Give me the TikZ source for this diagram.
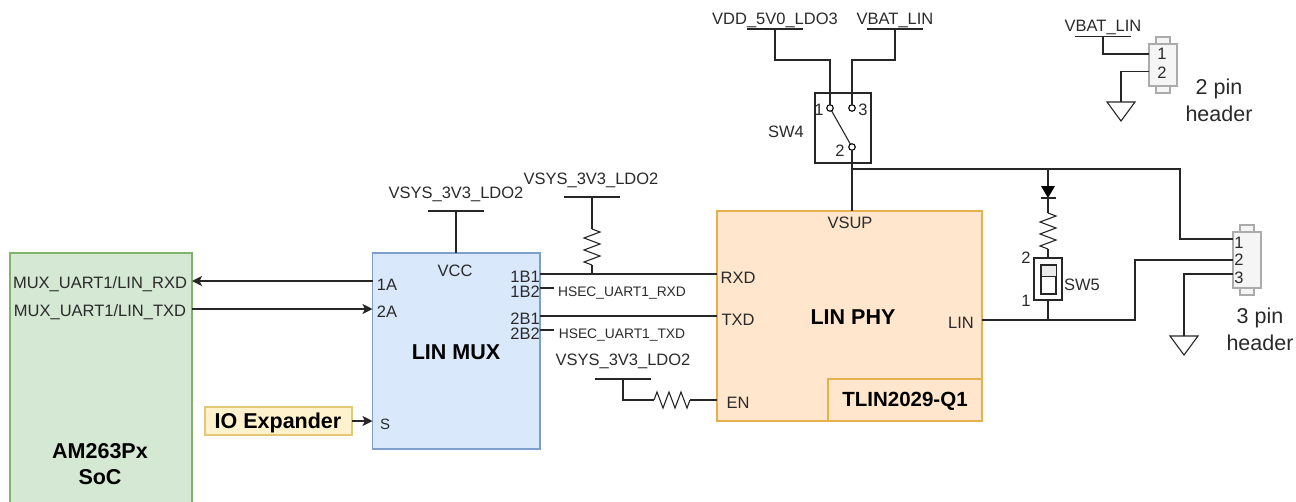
\documentclass[tikz,border=0pt]{standalone}
\usepackage{fontspec}
\setmainfont{Liberation Sans}
\usetikzlibrary{arrows.meta}
\definecolor{socfill}{HTML}{D5E8D4}
\definecolor{socline}{HTML}{82B366}
\definecolor{muxfill}{HTML}{DAE8FC}
\definecolor{muxline}{HTML}{7F9FCB}
\definecolor{phyfill}{HTML}{FFE6CC}
\definecolor{phyline}{HTML}{E8B04A}
\definecolor{ioxfill}{HTML}{FFF2CC}
\definecolor{ioxline}{HTML}{E3C878}
\definecolor{hdrfill}{HTML}{F5F5F5}
\definecolor{hdrline}{HTML}{ABABAB}
\definecolor{inktext}{HTML}{2A2A2A}
\tikzset{
	block/.style={draw, rectangle, inner sep=0pt, outer sep=0pt, line width=1.3pt},
	wire/.style={line width=1.4pt, color=black!85, line join=miter},
	thinwire/.style={line width=1.1pt, color=black!85},
	lab/.style={inner sep=0pt, yshift=-1.2pt, text=inktext, font=\fontsize{16.5}{19}\selectfont},
	smalllab/.style={inner sep=0pt, yshift=-1pt, text=inktext, font=\fontsize{13.8}{16}\selectfont},
	biglab/.style={inner sep=0pt, text=inktext, align=center, font=\fontsize{21.5}{27}\selectfont},
	boldlab/.style={inner sep=0pt, yshift=-1.5pt, text=black, align=center, font=\bfseries\fontsize{21.5}{26}\selectfont},
	pinhole/.style={draw, circle, fill=white, inner sep=0pt, outer sep=0pt, minimum size=6.5pt, line width=1.1pt},
	hdrbody/.style={block, fill=hdrfill, draw=hdrline},
	railbar/.pic={\draw[thinwire] (-28,0) -- (28,0);},
	gndsym/.pic={\draw[thinwire] (-14,0) -- (14,0) -- (0,19) -- cycle;},
	resbody/.pic={\draw[thinwire] (0,0) -- (8,3) -- (-8,9) -- (8,15) -- (-8,21) -- (8,27) -- (-8,33) -- (0,36);},
	diodesym/.pic={\fill[black] (-7,0) -- (7,0) -- (0,12) -- cycle; \draw[thinwire] (-7.5,12) -- (7.5,12);}
}
\begin{document}
\begin{tikzpicture}[x=1pt, y=-1pt, >={Stealth[length=10pt,width=10pt,inset=2.5pt]}]
	\useasboundingbox (0,0) rectangle (1296,501);
	\clip (0,0) rectangle (1296,501);

	% 1. blocks
	\node[block, fill=socfill, draw=socline, minimum width=182pt, minimum height=258pt] (soc) at (101,382) {};
	\node[block, fill=muxfill, draw=muxline, minimum width=167.5pt, minimum height=196pt] (mux) at (456.25,351) {};
	\node[block, fill=phyfill, draw=phyline, minimum width=265pt, minimum height=210pt] (phy) at (849.5,316) {};
	\node[block, fill=phyfill, draw=phyline, minimum width=154pt, minimum height=42pt] (tlin) at (905,400) {};
	\node[block, fill=ioxfill, draw=ioxline, minimum width=147pt, minimum height=28pt] (iox) at (278.5,421) {};
	\node[boldlab] (socname) at (100,463) {AM263Px\\SoC};
	\node[boldlab] (muxname) at (456,351) {LIN MUX};
	\node[boldlab] (phyname) at (853,316) {LIN PHY};
	\node[boldlab, font=\bfseries\fontsize{20.5}{25}\selectfont] (tlinname) at (905,400) {TLIN2029-Q1};
	\node[boldlab] (ioxname) at (278,421) {IO Expander};

	% 2. pin names
	\node[lab] (socrxd) at (100,283) {MUX\_UART1/LIN\_RXD};
	\node[lab] (soctxd) at (100,311) {MUX\_UART1/LIN\_TXD};
	\node[lab] (mux1a) at (387,284) {1A};
	\node[lab] (mux2a) at (387,311) {2A};
	\node[lab, font=\fontsize{15}{18}\selectfont] (muxs) at (385,423) {S};
	\node[lab] (muxvcc) at (455,270) {VCC};
	\node[lab] (mux1b1) at (525,276) {1B1};
	\node[lab] (mux1b2) at (525,291) {1B2};
	\node[lab] (mux2b1) at (525,318) {2B1};
	\node[lab] (mux2b2) at (525,333) {2B2};
	\node[lab] (phyrxd) at (738,277) {RXD};
	\node[lab] (phytxd) at (738,319) {TXD};
	\node[lab] (phyen) at (738,402) {EN};
	\node[lab] (physup) at (850,222) {VSUP};
	\node[lab] (phylin) at (961,322) {LIN};
	\node[smalllab] (hsecrxd) at (622,292) {HSEC\_UART1\_RXD};
	\node[smalllab] (hsectxd) at (622,334) {HSEC\_UART1\_TXD};

	% 3. power rails
	\coordinate (railvcc) at (456,211);
	\coordinate (railpull) at (592,197);
	\coordinate (railen) at (623,379);
	\coordinate (railvdd) at (775,29);
	\coordinate (railbat) at (895,29);
	\coordinate (railhdr) at (1103,36.5);
	\foreach \r in {railvcc,railpull,railen,railvdd,railbat,railhdr}
		\pic at (\r) {railbar};
	\node[lab] (railvcclab) at (456,193) {VSYS\_3V3\_LDO2};
	\node[lab] (railpulllab) at (591,179) {VSYS\_3V3\_LDO2};
	\node[lab] (railenlab) at (623,360) {VSYS\_3V3\_LDO2};
	\node[lab] (railvddlab) at (775,19) {VDD\_5V0\_LDO3};
	\node[lab] (railbatlab) at (895,19) {VBAT\_LIN};
	\node[lab] (railhdrlab) at (1103,26) {VBAT\_LIN};

	% 4. SoC and mux side
	\coordinate (a1) at (mux.west |- 0,281);
	\coordinate (a2) at (mux.west |- 0,309);
	\draw[wire,->] (a1) -- (soc.east |- a1);
	\draw[wire,->] (soc.east |- a2) -- (a2);
	\draw[wire,->] (iox.east) -- (mux.west |- iox.east);
	\draw[wire] (railvcc) -- (mux.north -| railvcc);

	% 5. mux to PHY
	\coordinate (b1) at (mux.east |- 0,274);
	\coordinate (b2) at (mux.east |- 0,316);
	\draw[wire] (b1) -- (phy.west |- b1);
	\draw[wire] (b2) -- (phy.west |- b2);
	\draw[thinwire] (mux.east |- 0,288) -- (554,288);
	\draw[thinwire] (mux.east |- 0,330) -- (554,330);
	\coordinate (pulltop) at (592,229);
	\coordinate (pullend) at (592,265);
	\draw[wire] (railpull) -- (pulltop);
	\pic at (pulltop) {resbody};
	\draw[wire] (pullend) -- (pullend |- b1);
	\coordinate (enres) at (654,400);
	\coordinate (enresend) at (690,400);
	\draw[wire] (railen) |- (enres);
	\pic[rotate=90] at (enres) {resbody};
	\draw[wire] (enresend) -- (phy.west |- enresend);

	% 6. SW4
	\node[block, draw=black!85, fill=white, minimum width=56pt, minimum height=70pt] (sw4) at (843,128) {};
	\node[pinhole] (swa) at (830,108) {};
	\node[pinhole] (swb) at (852,108) {};
	\node[pinhole] (swc) at (852,147) {};
	\node[lab] (swan) at (819,108.5) {1};
	\node[lab] (swbn) at (863,108.5) {3};
	\node[lab] (swcn) at (840,150) {2};
	\node[lab] (sw4lab) at (786,131) {SW4};
	\draw[wire] (railvdd) -- (775,60) -| (swa.north);
	\draw[wire] (railbat) -- (895,60) -| (swb.north);
	\draw[thinwire] (swa) -- (swc);
	\draw[wire] (swc.south) -- (phy.north -| swc);

	% 7. supply branch and SW5
	\coordinate (vsupnode) at (852,169);
	\coordinate (dtop) at (1048,186);
	\coordinate (rtop) at (1048,213);
	\coordinate (rend) at (1048,249);
	\node[block, draw=black!85, fill=white, line width=1.1pt, minimum width=28pt, minimum height=42pt] (sw5) at (1048,279) {};
	\node[block, draw=black!85, fill=white, line width=1.1pt, minimum width=15pt, minimum height=29pt] (sw5in) at (1048.5,279.5) {};
	\node[block, draw=black!85, fill=black!8, line width=0.9pt, minimum width=15pt, minimum height=11pt] (sw5top) at (1048.5,270.5) {};
	\node[lab] (sw5two) at (1026,257) {2};
	\node[lab] (sw5one) at (1026,300) {1};
	\node[lab] (sw5lab) at (1082,284) {SW5};
	\draw[wire] (vsupnode) -| (dtop);
	\pic at (dtop) {diodesym};
	\draw[wire] (1048,198) -- (rtop);
	\pic at (rtop) {resbody};
	\draw[wire] (rend) -- (sw5.north);

	% 8. headers
	\node[hdrbody, minimum width=14pt, minimum height=7pt] (hdrctop) at (1247,228.5) {};
	\node[hdrbody, minimum width=14pt, minimum height=7pt] (hdrcbot) at (1247,291.5) {};
	\node[hdrbody, minimum width=28pt, minimum height=56pt] (hdrc) at (1247,260) {};
	\node[hdrbody, minimum width=14pt, minimum height=7pt] (hdrbtop) at (1163,40.5) {};
	\node[hdrbody, minimum width=14pt, minimum height=7pt] (hdrbbot) at (1163,89.5) {};
	\node[hdrbody, minimum width=28pt, minimum height=42pt] (hdrb) at (1163,65) {};
	\foreach \n/\y in {1/242,2/259,3/277}
		\node[lab] (hdrcpin\n) at (1239,\y) {\n};
	\foreach \n/\y in {1/53,2/72}
		\node[lab] (hdrbpin\n) at (1162,\y) {\n};
	\node[biglab] (hdrclab) at (1260,329.5) {3 pin\\header};
	\node[biglab] (hdrblab) at (1219,100) {2 pin\\header};
	\draw[wire] (vsupnode) -- (1180,169) |- (hdrc.west |- 0,239);
	\draw[wire] (phy.east |- 0,320) -- (1135,320) |- (hdrc.west |- 0,260);
	\draw[wire] (sw5.south) -- (1048,320);
	\coordinate (gndc) at (1184,336);
	\coordinate (gndb) at (1121,102);
	\draw[wire] (hdrc.west |- 0,274) -| (gndc);
	\pic at (gndc) {gndsym};
	\draw[wire] (railhdr) |- (hdrb.west |- 0,54);
	\draw[wire] (hdrb.west |- 0,71.5) -| (gndb);
	\pic at (gndb) {gndsym};
\end{tikzpicture}
\end{document}
